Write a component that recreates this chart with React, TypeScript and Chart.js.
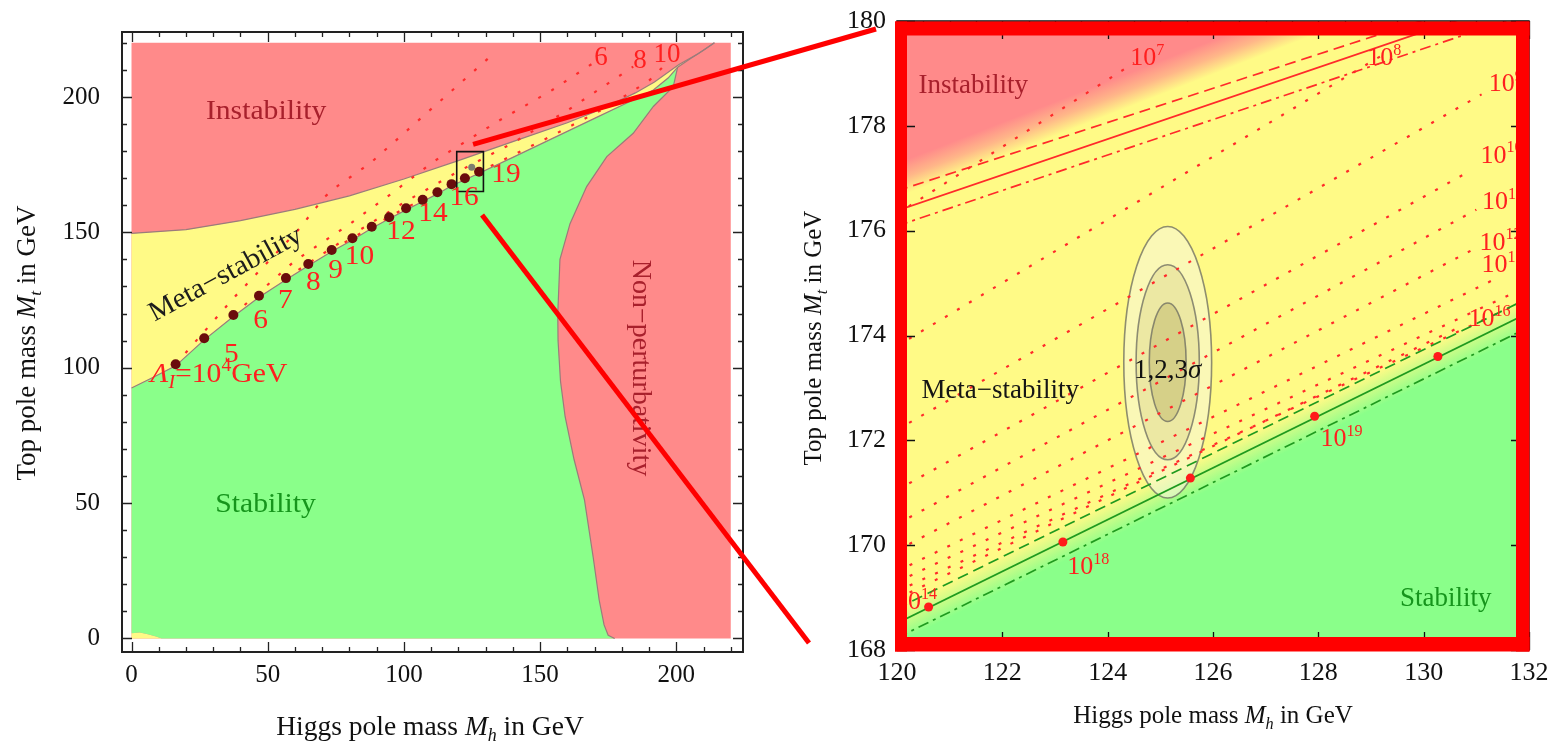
import React, { useEffect, useRef } from "react";
import { Chart, registerables } from "chart.js";

Chart.register(...registerables);

const SERIF = "'Liberation Serif', 'Times New Roman', Times, serif";
const RED = "#FF8A8A";
const YEL = "#FFFA86";
const GRN = "#8AFF8A";
const EDGE = "#9b7b7b";

// ---------------- Left panel: full (Mh, Mt) plane ----------------
const leftTickValues = [0, 10, 20, 30, 40, 50, 60, 70, 80, 90, 100, 110, 120, 130, 140, 150, 160, 170, 180, 190, 200, 210, 220];
const leftLabelledTicks = [0, 50, 100, 150, 200];

const planeCornerMh = [0, 220, 220, 0, 0];
const planeCornerMt = [0, 0, 220, 220, 0];

const instabilityEdgeMh = [0, 20, 40, 60, 80, 100, 120, 140, 160, 172, 185, 192, 201, 208, 214];
const instabilityEdgeMt = [149.6, 151, 154.3, 158.5, 163.5, 169.7, 176.5, 183.5, 190.5, 195.3, 201.5, 205.5, 212, 216, 220];

const stabilityEdgeMh = [0, 8, 16.2, 26.7, 37.4, 46.8, 56.7, 64.9, 73.5, 81.1, 88.2, 94.6, 100.8, 106.9, 112.3, 117.5, 122.4, 127.6, 140, 155, 170, 183, 191.6, 197, 200.5];
const stabilityEdgeMt = [92.5, 96.5, 100.7, 110.3, 118.9, 126, 132.5, 137.7, 142.9, 147.2, 151.5, 155, 158.3, 161.4, 164.2, 167.2, 169.4, 171.8, 177.7, 184.9, 192.1, 198.3, 202.6, 207, 211];

const bandTipMh = [200.5, 205, 210, 214];
const bandTipMt = [211, 214, 217.3, 220];

const nonPertEdgeMh = [200.5, 198.9, 191.6, 184.2, 174.5, 167.1, 161, 157.3, 156.5, 156.6, 157.5, 159.2, 162.5, 166.3, 169.5, 171.7, 173.5, 175, 177.4];
const nonPertEdgeMt = [211, 203.8, 196.5, 186.6, 178, 166.9, 153.2, 140, 120, 110, 95, 81.9, 66, 51.2, 30, 14.2, 5, 1.2, 0];

const cornerPatchMh = [0, 0, 3, 6, 9, 11, 0];
const cornerPatchMt = [0, 1.9, 2.2, 1.6, 0.7, 0, 0];

const lambdaDotMh = [16.2, 26.7, 37.4, 46.8, 56.7, 64.9, 73.5, 81.1, 88.2, 94.6, 100.8, 106.9, 112.3, 117.5, 122.4, 127.6];
const lambdaDotMt = [101.3, 110.9, 119.5, 126.6, 133.1, 138.3, 143.5, 147.8, 152.1, 155.6, 158.9, 162.0, 164.8, 167.8, 170.0, 172.4];

const dotLabelText = ["5", "6", "7", "8", "9", "10", "12", "14", "16", "19"];
const dotLabelMh = [36.7, 47.4, 56.5, 66.8, 74.9, 83.7, 98.9, 110.7, 122.1, 137.5];
const dotLabelMt = [105.7, 118.0, 125.4, 132.1, 136.5, 141.6, 150.9, 157.5, 163.5, 172.0];

const contour4Mh = [16.2, 38, 61.2, 71, 75.3, 87.6, 131];
const contour4Mt = [101.3, 126.3, 150.9, 163.2, 166.9, 175.5, 214.3];
const contour6Mh = [37.4, 60, 80, 95, 110.8, 135.3, 153.6, 169.5];
const contour6Mt = [119.5, 139.5, 153, 164, 176.1, 191.5, 202, 212.5];
const contour8Mh = [56.7, 80, 100, 120, 140, 160, 184.2];
const contour8Mt = [133.1, 148.5, 161, 172.5, 183, 195, 211.2];
const contour10Mh = [73.5, 95, 115, 135, 155, 175, 190, 195];
const contour10Mt = [143.5, 156, 166.5, 176, 186, 196.5, 206, 211];

const topLabelText = ["6", "8", "10"];
const topLabelMh = [172.4, 186.7, 196.6];
const topLabelMt = [215.2, 214.1, 216.3];

const insetBoxMh = [119.4, 129.2, 129.2, 119.4, 119.4];
const insetBoxMt = [165.1, 165.1, 179.8, 179.8, 165.1];
const measuredPointMh = [124.9];
const measuredPointMt = [174.0];

const connectorStartMh = [125.4, 128.7];
const connectorStartMt = [182.5, 156.4];

// ---------------- Right panel: zoom 120–132 x 168–180 ----------------
const rightXTicks = Array.from({ length: 25 }, (_, i) => 120 + i * 0.5);
const rightYTicks = Array.from({ length: 25 }, (_, i) => 168 + i * 0.5);

const instabilityLineMh = [120, 132];
const instabilityLineMt = [176.38, 180.48];
const instabilityUpperMt = [176.76, 180.67];
const instabilityLowerMt = [176.09, 180.15];
// centre line of the red -> yellow colour transition
const instabilityShadeMh = [120, 127];
const instabilityShadeMt = [176.96, 179.7];

const stabilityLineMh = [120, 132];
const stabilityLineMt = [168.51, 174.44];
const stabilityUpperMt = [168.79, 174.72];
const stabilityLowerMt = [168.23, 174.16];

const stabilityDotMh = [120.6, 123.15, 125.57, 127.93, 130.27];
const stabilityDotMt = [168.82, 170.06, 171.28, 172.46, 173.6];

const lambdaLineStartMh = [120, 120, 120, 120, 120, 120, 120, 120, 120, 120];
const lambdaLineStartMt = [176.32, 173.8, 172.2, 171.05, 170.4, 169.9, 169.5, 169.3, 169.12, 168.98];
const lambdaLineEndMh = [124.5, 129.3, 131.1, 130.9, 131.0, 130.9, 131.3, 132, 132, 130.6];
const lambdaLineEndMt = [179.2, 179.4, 178.6, 177.15, 176.4, 175.62, 175.05, 174.95, 174.7, 174.12];

const scaleLabelExp = ["7", "8", "9", "10", "11", "12", "13", "16", "14", "18", "19"];
const scaleLabelMh = [124.75, 129.25, 131.56, 131.48, 131.5, 131.46, 131.5, 131.25, 120.36, 123.63, 128.44];
const scaleLabelMt = [179.32, 179.32, 178.82, 177.46, 176.57, 175.8, 175.37, 174.34, 168.94, 169.61, 172.05];

const ellipseCenterMh = 125.14;
const ellipseCenterMt = 173.49;
const ellipseHalfWidthMh = [0.35, 0.6, 0.834];
const ellipseHalfHeightMt = [1.13, 1.86, 2.59];

// ---------------- helpers ----------------
function pts(xs: number[], ys: number[]) {
  return xs.map((x, i) => ({ x, y: ys[i] }));
}

type Run = { t: string; s: number; it?: boolean; dy?: number };

function drawRuns(ctx: CanvasRenderingContext2D, runs: Run[], cx: number, cy: number, color: string, rot = 0, sx = 1) {
  ctx.save();
  ctx.translate(cx, cy);
  if (rot) ctx.rotate((rot * Math.PI) / 180);
  if (sx !== 1) ctx.scale(sx, 1);
  ctx.fillStyle = color;
  ctx.textAlign = "left";
  ctx.textBaseline = "alphabetic";
  const fonts = runs.map((r) => `${r.it ? "italic " : ""}${r.s}px ${SERIF}`);
  const widths = runs.map((r, i) => {
    ctx.font = fonts[i];
    return ctx.measureText(r.t).width;
  });
  const total = widths.reduce((a, b) => a + b, 0);
  let x = -total / 2;
  const base = runs[0].s * 0.33;
  runs.forEach((r, i) => {
    ctx.font = fonts[i];
    ctx.fillText(r.t, x, base + (r.dy || 0));
    x += widths[i];
  });
  ctx.restore();
}

const titleRuns = (first: string, sub: string, s: number): Run[] => [
  { t: first, s },
  { t: "M", s, it: true },
  { t: sub, s: s * 0.65, it: true, dy: s * 0.22 },
  { t: " in GeV", s },
];

const powRuns = (exp: string, s: number): Run[] => [
  { t: "10", s },
  { t: exp, s: s * 0.62, dy: -s * 0.4 },
];

function area(data: { x: number; y: number }[], color: string, order: number) {
  return {
    data,
    showLine: true,
    fill: "shape",
    backgroundColor: color,
    borderColor: "transparent",
    borderWidth: 0,
    pointRadius: 0,
    tension: 0,
    order,
  };
}

function line(data: { x: number; y: number }[], color: string, width: number, dash: number[], order: number) {
  return {
    data,
    showLine: true,
    fill: false,
    borderColor: color,
    borderWidth: width,
    borderDash: dash,
    pointRadius: 0,
    tension: 0,
    order,
  };
}

function drawInwardTicks(ctx: CanvasRenderingContext2D, chart: any, xs: number[], ys: number[], isMajorX: (v: number) => boolean, isMajorY: (v: number) => boolean, majL: number, minL: number) {
  const a = chart.chartArea;
  const { x, y } = chart.scales;
  ctx.beginPath();
  xs.forEach((v) => {
    const p = Math.round(x.getPixelForValue(v)) + 0.5;
    const l = isMajorX(v) ? majL : minL;
    ctx.moveTo(p, a.bottom);
    ctx.lineTo(p, a.bottom - l);
    ctx.moveTo(p, a.top);
    ctx.lineTo(p, a.top + l);
  });
  ys.forEach((v) => {
    const p = Math.round(y.getPixelForValue(v)) + 0.5;
    const l = isMajorY(v) ? majL : minL;
    ctx.moveTo(a.left, p);
    ctx.lineTo(a.left + l, p);
    ctx.moveTo(a.right, p);
    ctx.lineTo(a.right - l, p);
  });
  ctx.stroke();
}

// ---------------- left chart ----------------
function leftConfig() {
  const greenPoly = [
    ...pts(stabilityEdgeMh, stabilityEdgeMt),
    ...pts(nonPertEdgeMh.slice(1), nonPertEdgeMt.slice(1)),
    ...pts(cornerPatchMh.slice(1, 6).reverse(), cornerPatchMt.slice(1, 6).reverse()),
    { x: stabilityEdgeMh[0], y: stabilityEdgeMt[0] },
  ];
  const bandPoly = [
    ...pts(instabilityEdgeMh, instabilityEdgeMt),
    ...pts(bandTipMh, bandTipMt).reverse(),
    ...pts(stabilityEdgeMh, stabilityEdgeMt).reverse(),
    { x: instabilityEdgeMh[0], y: instabilityEdgeMt[0] },
  ];
  const lowerEdge = [...pts(stabilityEdgeMh, stabilityEdgeMt), ...pts(bandTipMh.slice(1), bandTipMt.slice(1))];

  const decor = {
    id: "leftDecor",
    afterDatasetsDraw(chart: any) {
      const { ctx } = chart;
      const { x, y } = chart.scales;
      const P = (mh: number, mt: number) => [x.getPixelForValue(mh), y.getPixelForValue(mt)];
      let p = P(49.4, 195.2);
      drawRuns(ctx, [{ t: "Instability", s: 28 }], p[0], p[1], "#a8202c", 0, 1.06);
      p = P(34.3, 135.0);
      drawRuns(ctx, [{ t: "Meta\u2212stability", s: 28 }], p[0], p[1], "#1c1c1c", -28.5, 1.04);
      p = P(49.2, 50.1);
      drawRuns(ctx, [{ t: "Stability", s: 28 }], p[0], p[1], "#16951c", 0, 1.06);
      p = P(187.5, 99.9);
      drawRuns(ctx, [{ t: "Non\u2212perturbativity", s: 28 }], p[0], p[1], "#a8202c", 90, 1.0);
      p = P(32.1, 98.1);
      drawRuns(
        ctx,
        [
          { t: "\u039b", s: 27, it: true },
          { t: "I", s: 18, it: true, dy: 6 },
          { t: "=10", s: 27 },
          { t: "4", s: 18, dy: -11 },
          { t: "GeV", s: 27 },
        ],
        p[0],
        p[1],
        "#ff1f1f",
        0,
        1.1
      );
      dotLabelText.forEach((t, i) => {
        const q = P(dotLabelMh[i], dotLabelMt[i]);
        drawRuns(ctx, [{ t, s: 28 }], q[0], q[1], "#ff1f1f", 0, 1.05);
      });
      topLabelText.forEach((t, i) => {
        const q = P(topLabelMh[i], topLabelMt[i]);
        drawRuns(ctx, [{ t, s: 27 }], q[0], q[1], "#ff1f1f", 0, 1.0);
      });
    },
    afterDraw(chart: any) {
      const { ctx, chartArea: a } = chart;
      const { x, y } = chart.scales;
      ctx.save();
      ctx.strokeStyle = "#222";
      ctx.lineWidth = 2;
      ctx.strokeRect(a.left, a.top, a.right - a.left, a.bottom - a.top);
      ctx.lineWidth = 1.3;
      const maj = (v: number) => leftLabelledTicks.includes(v);
      drawInwardTicks(ctx, chart, leftTickValues, leftTickValues, maj, maj, 10, 5);
      drawRuns(ctx, titleRuns("Top pole mass ", "t", 27), 26, 343, "#111", -90);
      drawRuns(ctx, titleRuns("Higgs pole mass ", "h", 27.5), 430, 726, "#111", 0);
      // zoom connectors
      const ends = [
        [876, 29],
        [809, 643],
      ];
      ctx.strokeStyle = "#ff0000";
      ctx.lineWidth = 5;
      connectorStartMh.forEach((mh, i) => {
        ctx.beginPath();
        ctx.moveTo(x.getPixelForValue(mh), y.getPixelForValue(connectorStartMt[i]));
        ctx.lineTo(ends[i][0], ends[i][1]);
        ctx.stroke();
      });
      ctx.restore();
    },
  };

  const tickFont = { family: SERIF, size: 25 };
  return {
    type: "scatter",
    data: {
      datasets: [
        area(pts(planeCornerMh, planeCornerMt), RED, 20),
        area(bandPoly, YEL, 19),
        area(pts(cornerPatchMh, cornerPatchMt), YEL, 19),
        area(greenPoly, GRN, 18),
        line(pts(instabilityEdgeMh, instabilityEdgeMt), EDGE, 1.2, [], 15),
        line(lowerEdge, EDGE, 1.2, [], 15),
        line(pts(nonPertEdgeMh, nonPertEdgeMt), EDGE, 1.2, [], 15),
        line(pts(contour4Mh, contour4Mt), "#ff2a2a", 2.2, [3, 12], 10),
        line(pts(contour6Mh, contour6Mt), "#ff2a2a", 2.2, [3, 12], 10),
        line(pts(contour8Mh, contour8Mt), "#ff2a2a", 2.2, [3, 12], 10),
        line(pts(contour10Mh, contour10Mt), "#ff2a2a", 2.2, [3, 12], 10),
        {
          data: pts(lambdaDotMh, lambdaDotMt),
          showLine: false,
          pointRadius: 5,
          pointBackgroundColor: "#6a0c0c",
          pointBorderWidth: 0,
          order: 5,
        },
        {
          data: pts(measuredPointMh, measuredPointMt),
          showLine: false,
          pointRadius: 3.5,
          pointBackgroundColor: "#7d7d70",
          pointBorderWidth: 0,
          order: 4,
        },
        line(pts(insetBoxMh, insetBoxMt), "#111", 1.6, [], 3),
      ],
    },
    options: {
      responsive: false,
      animation: false,
      devicePixelRatio: 1,
      layout: { padding: { top: 32, right: 157, bottom: 0, left: 0 } },
      plugins: { legend: { display: false }, tooltip: { enabled: false } },
      scales: {
        x: {
          type: "linear",
          min: -3.49,
          max: 224.5,
          bounds: "data",
          afterBuildTicks: (s: any) => {
            s.ticks = leftTickValues.map((v) => ({ value: v }));
          },
          afterFit: (s: any) => {
            s.height = 92;
          },
          grid: { display: false },
          border: { display: false },
          ticks: {
            autoSkip: false,
            maxRotation: 0,
            padding: 0,
            color: "#111",
            font: tickFont,
            callback: (v: any) => (leftLabelledTicks.includes(Number(v)) ? String(v) : ""),
          },
        },
        y: {
          type: "linear",
          min: -5,
          max: 224,
          bounds: "data",
          afterBuildTicks: (s: any) => {
            s.ticks = leftTickValues.map((v) => ({ value: v }));
          },
          afterFit: (s: any) => {
            s.width = 122;
          },
          grid: { display: false },
          border: { display: false },
          ticks: {
            autoSkip: false,
            padding: 14,
            color: "#111",
            font: tickFont,
            callback: (v: any) => (leftLabelledTicks.includes(Number(v)) ? String(v) : ""),
          },
        },
      },
    },
    plugins: [decor],
  };
}

// ---------------- right chart ----------------
function rightConfig() {
  const isEven = (v: number) => Math.abs(v - 2 * Math.round(v / 2)) < 1e-6;

  const decor = {
    id: "rightDecor",
    beforeDatasetsDraw(chart: any) {
      const { ctx, chartArea: a } = chart;
      const { x, y } = chart.scales;
      ctx.save();
      ctx.beginPath();
      ctx.rect(a.left, a.top, a.right - a.left, a.bottom - a.top);
      ctx.clip();
      ctx.fillStyle = YEL;
      ctx.fillRect(a.left, a.top, a.right - a.left, a.bottom - a.top);
      const grad = (mhs: number[], mts: number[], dNear: number, dFar: number, stops: [number, string][]) => {
        const x0 = x.getPixelForValue(mhs[0]);
        const y0 = y.getPixelForValue(mts[0]);
        const x1 = x.getPixelForValue(mhs[1]);
        const y1 = y.getPixelForValue(mts[1]);
        const len = Math.hypot(x1 - x0, y1 - y0);
        const nx = (y1 - y0) / len;
        const ny = -(x1 - x0) / len;
        const g = ctx.createLinearGradient(x0 + nx * dNear, y0 + ny * dNear, x0 + nx * dFar, y0 + ny * dFar);
        stops.forEach(([o, c]) => g.addColorStop(o, c));
        ctx.fillStyle = g;
        ctx.fillRect(a.left, a.top, a.right - a.left, a.bottom - a.top);
      };
      grad(instabilityShadeMh, instabilityShadeMt, -16, 16, [
        [0, "rgba(255,138,138,0)"],
        [0.5, "rgba(255,138,138,0.6)"],
        [1, "rgba(255,138,138,1)"],
      ]);
      grad(stabilityLineMh, stabilityLineMt, 14, -18, [
        [0, "rgba(138,255,138,0)"],
        [1, "rgba(138,255,138,1)"],
      ]);
      const cx = x.getPixelForValue(ellipseCenterMh);
      const cy = y.getPixelForValue(ellipseCenterMt);
      const fills = ["rgba(150,140,60,0.26)", "rgba(170,160,80,0.18)", "rgba(246,246,222,0.55)"];
      for (let i = 2; i >= 0; i--) {
        const rx = Math.abs(x.getPixelForValue(ellipseCenterMh + ellipseHalfWidthMh[i]) - cx);
        const ry = Math.abs(y.getPixelForValue(ellipseCenterMt + ellipseHalfHeightMt[i]) - cy);
        ctx.beginPath();
        ctx.ellipse(cx, cy, rx, ry, 0, 0, Math.PI * 2);
        ctx.fillStyle = fills[i];
        ctx.fill();
        ctx.strokeStyle = "rgba(105,105,95,0.75)";
        ctx.lineWidth = 1.6;
        ctx.stroke();
      }
      ctx.restore();
    },
    afterDatasetsDraw(chart: any) {
      const { ctx, chartArea: a } = chart;
      const { x, y } = chart.scales;
      const P = (mh: number, mt: number) => [x.getPixelForValue(mh), y.getPixelForValue(mt)];
      ctx.save();
      ctx.beginPath();
      ctx.rect(a.left, a.top, a.right - a.left, a.bottom - a.top);
      ctx.clip();
      let p = P(121.45, 178.8);
      drawRuns(ctx, [{ t: "Instability", s: 27 }], p[0], p[1], "#a8202c");
      p = P(121.96, 172.98);
      drawRuns(ctx, [{ t: "Meta\u2212stability", s: 27 }], p[0], p[1], "#151515");
      p = P(130.42, 169.0);
      drawRuns(ctx, [{ t: "Stability", s: 27 }], p[0], p[1], "#16951c");
      p = P(125.14, 173.36);
      drawRuns(
        ctx,
        [
          { t: "1,2,3", s: 27 },
          { t: "\u03c3", s: 27, it: true },
        ],
        p[0],
        p[1],
        "#111"
      );
      scaleLabelExp.forEach((e, i) => {
        const q = P(scaleLabelMh[i], scaleLabelMt[i]);
        drawRuns(ctx, powRuns(e, 26), q[0], q[1], "#ff1f1f");
      });
      ctx.restore();
    },
    afterDraw(chart: any) {
      const { ctx, chartArea: a } = chart;
      ctx.save();
      ctx.strokeStyle = "#111";
      ctx.lineWidth = 1.5;
      ctx.strokeRect(a.left, a.top, a.right - a.left, a.bottom - a.top);
      ctx.lineWidth = 1.3;
      drawInwardTicks(ctx, chart, rightXTicks, rightYTicks, isEven, isEven, 18, 9);
      // thick red frame of the zoom window
      ctx.fillStyle = "#ff0000";
      const L = a.left - 2;
      const T = a.top + 0.5;
      const R = a.right + 0.5;
      const B = a.bottom + 1.5;
      ctx.fillRect(L, T, R - L, 14);
      ctx.fillRect(L, B - 14.5, R - L, 14.5);
      ctx.fillRect(L, T, 12, B - T);
      ctx.fillRect(R - 13.5, T, 13.5, B - T);
      drawRuns(ctx, titleRuns("Top pole mass ", "t", 25), 53, 338, "#111", -90);
      drawRuns(ctx, titleRuns("Higgs pole mass ", "h", 25), 453, 715, "#111", 0);
      ctx.restore();
    },
  };

  const lambdaLines = lambdaLineStartMh.map((_, i) =>
    line(
      pts([lambdaLineStartMh[i], lambdaLineEndMh[i]], [lambdaLineStartMt[i], lambdaLineEndMt[i]]),
      "#ff2a2a",
      2.2,
      [3, 11],
      10
    )
  );

  const tickFont = { family: SERIF, size: 26 };
  return {
    type: "scatter",
    data: {
      datasets: [
        ...lambdaLines,
        line(pts(instabilityLineMh, instabilityLineMt), "#ff2a2a", 1.8, [], 8),
        line(pts(instabilityLineMh, instabilityUpperMt), "#ff2a2a", 1.7, [11, 6], 8),
        line(pts(instabilityLineMh, instabilityLowerMt), "#ff2a2a", 1.7, [11, 5, 3, 5], 8),
        line(pts(stabilityLineMh, stabilityLineMt), "#1f9a1f", 1.8, [], 8),
        line(pts(stabilityLineMh, stabilityUpperMt), "#1f9a1f", 1.7, [11, 6], 8),
        line(pts(stabilityLineMh, stabilityLowerMt), "#1f9a1f", 1.7, [11, 5, 3, 5], 8),
        {
          data: pts(stabilityDotMh, stabilityDotMt),
          showLine: false,
          pointRadius: 4.5,
          pointBackgroundColor: "#ff1a1a",
          pointBorderWidth: 0,
          order: 2,
        },
      ],
    },
    options: {
      responsive: false,
      animation: false,
      devicePixelRatio: 1,
      layout: { padding: { top: 21, right: 21, bottom: 0, left: 0 } },
      plugins: { legend: { display: false }, tooltip: { enabled: false } },
      scales: {
        x: {
          type: "linear",
          min: 120,
          max: 132,
          bounds: "data",
          afterBuildTicks: (s: any) => {
            s.ticks = rightXTicks.map((v) => ({ value: v }));
          },
          afterFit: (s: any) => {
            s.height = 94;
          },
          grid: { display: false },
          border: { display: false },
          ticks: {
            autoSkip: false,
            maxRotation: 0,
            padding: 0,
            color: "#111",
            font: tickFont,
            callback: (v: any) => (isEven(Number(v)) ? String(Math.round(Number(v))) : ""),
          },
        },
        y: {
          type: "linear",
          min: 168,
          max: 180,
          bounds: "data",
          afterBuildTicks: (s: any) => {
            s.ticks = rightYTicks.map((v) => ({ value: v }));
          },
          afterFit: (s: any) => {
            s.width = 137;
          },
          grid: { display: false },
          border: { display: false },
          ticks: {
            autoSkip: false,
            padding: 3,
            color: "#111",
            font: tickFont,
            callback: (v: any) => (isEven(Number(v)) ? String(Math.round(Number(v))) : ""),
          },
        },
      },
    },
    plugins: [decor],
  };
}

export default function App() {
  const leftRef = useRef<HTMLCanvasElement>(null);
  const rightRef = useRef<HTMLCanvasElement>(null);
  useEffect(() => {
    const c1 = new Chart(leftRef.current as HTMLCanvasElement, leftConfig() as any);
    const c2 = new Chart(rightRef.current as HTMLCanvasElement, rightConfig() as any);
    return () => {
      c1.destroy();
      c2.destroy();
    };
  }, []);
  return (
    <div style={{ position: "fixed", left: 0, top: 0, width: 1550, height: 744, background: "#fff", overflow: "hidden" }}>
      <canvas ref={leftRef} width={900} height={744} style={{ position: "absolute", left: 0, top: 0, width: 900, height: 744 }} />
      <canvas ref={rightRef} width={790} height={744} style={{ position: "absolute", left: 760, top: 0, width: 790, height: 744 }} />
    </div>
  );
}
